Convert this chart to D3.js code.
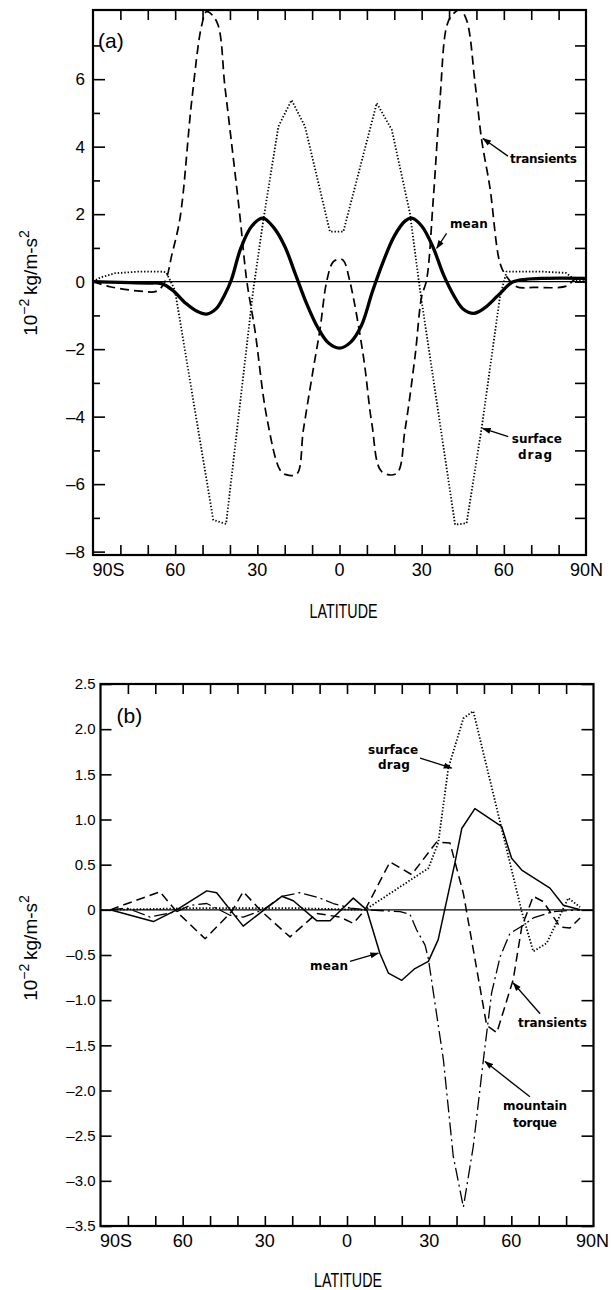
<!DOCTYPE html>
<html><head><meta charset="utf-8">
<script src="https://cdn.jsdelivr.net/npm/d3@7/dist/d3.min.js"></script>
<style>body{margin:0;background:#fff}</style>
</head><body><script>
// ---------------- DATA : panel (a) ----------------
const aMeanLat = [-90,-80,-70,-65,-61,-56,-52,-48.5,-45,-42,-39.5,-36,-32,-28,-24,-20,-16,-12,-8,-4,0,4,8,12,16,20,24,26.4,30,34,38,42,45,49,53,58,63,68,75,90];
const aMeanVal = [0,-0.02,-0.04,-0.06,-0.25,-0.65,-0.88,-0.96,-0.8,-0.4,0.05,1.0,1.65,1.88,1.6,1.05,0.2,-0.65,-1.35,-1.82,-1.97,-1.8,-1.3,-0.3,0.6,1.35,1.8,1.88,1.65,1.05,0.2,-0.45,-0.8,-0.94,-0.78,-0.4,-0.02,0.07,0.1,0.1];

const aTransLat = [-90,-83.8,-72.8,-66.7,-63.7,-61.2,-58.2,-53.9,-50.3,-48.5,-44.8,-41.8,-38.9,-36.3,-33.9,-30.9,-26.6,-21.7,-19.5,-15.6,-13.2,-9.6,-7.1,-4.7,-2.4,-0.5,1.3,3.8,8.7,11.8,15.4,20.9,23.9,27.6,30,31.8,34.2,36.7,39.1,41.1,44,46.4,49.5,51.9,54.9,58.6,61,64.7,70.8,83,86,90];
const aTransVal = [0,-0.15,-0.28,-0.28,0,0.8,1.9,5.4,7.6,8.0,7.7,5.75,3.75,1.9,0.05,-1.43,-4.0,-5.58,-5.72,-5.7,-4.4,-2.6,-1.4,0,0.58,0.66,0.64,0,-2.2,-4.2,-5.63,-5.68,-4.4,-2.2,-0.44,0.05,2.4,5.4,7.56,7.9,8.05,7.75,5.88,4.2,2.8,0.55,0.15,-0.15,-0.17,-0.13,0.07,0.05];

const aDragLat = [-90,-87.4,-81.9,-72.8,-65.5,-63.3,-60.1,-46.1,-41.4,-31.5,-27.8,-22.3,-17.5,-12.6,-7.1,-3.5,1.4,13.6,19.1,25.7,29.4,42.2,46.4,51.9,58.6,61,73.2,82.7,86,90];
const aDragVal = [0,0.12,0.25,0.3,0.3,0.28,-0.25,-7.06,-7.18,-0.25,1.83,4.6,5.38,4.6,2.72,1.48,1.48,5.29,4.5,2.03,-0.25,-7.2,-7.16,-4.34,-0.44,0.3,0.3,0.26,0.05,0];

// ---------------- DATA : panel (b) ----------------
const bMeanLat = [-86.5,-70.7,-62.2,-51.2,-47.6,-37.9,-31.1,-23.8,-19.6,-11.1,-6.2,2.3,7.2,12,15.1,20,24.8,29.7,33.3,39.4,41.9,46.7,56.5,60.1,63.8,74.1,79,85.1];
const bMeanVal = [0,-0.13,0,0.21,0.19,-0.18,-0.02,0.15,0.1,-0.12,-0.12,0.13,0,-0.48,-0.7,-0.78,-0.65,-0.57,-0.33,0.52,0.9,1.12,0.92,0.57,0.44,0.24,0.05,0];

const bTransLat = [-86.5,-68.3,-62.2,-51.8,-42.1,-37.9,-31.1,-20.8,-11.1,-2.6,2.3,6.6,15.7,23.6,32.7,37.6,42.5,51,54.7,60.7,63.8,68,71.7,77.8,81.4,85.1];
const bTransVal = [0,0.2,-0.02,-0.32,-0.02,0.2,-0.02,-0.3,-0.04,-0.08,-0.15,0,0.53,0.39,0.75,0.74,0.18,-1.28,-1.36,-0.77,-0.19,0.15,0.09,-0.19,-0.2,-0.09];

const bDragLat = [-86.5,-53.7,-20.8,6.6,29.7,33.3,37,42.5,46.1,63.8,68,72.9,80.8,85.1];
const bDragVal = [0,0.02,0.02,0,0.46,0.74,1.57,2.12,2.2,-0.02,-0.46,-0.37,0.13,0.03];

const bMtnLat = [-86.5,-80.4,-71.9,-62.2,-57.3,-51.2,-42.7,-37.9,-30.6,-23.8,-17.2,-9.9,-5,1.1,7.2,19.4,23,25.4,28.5,29.7,35.2,38.8,42.5,46.1,49.8,52.8,55.9,59.5,64.4,68,75.3,85.1];
const bMtnVal = [0,0.02,-0.08,-0.02,0.05,0.07,-0.06,-0.08,0,0.15,0.19,0.13,0.07,0.02,0,-0.02,-0.05,-0.22,-0.39,-0.54,-1.66,-2.73,-3.29,-2.62,-1.66,-0.92,-0.52,-0.26,-0.17,-0.09,-0.02,0];

// ---------------- TICKS / LABELS ----------------
const latTicks = [-80,-70,-60,-50,-40,-30,-20,-10,0,10,20,30,40,50,60,70,80];
const latLabelVals = [-90,-60,-30,0,30,60,90];
const latLabelText = ["90S","60","30","0","30","60","90N"];
const aYMajor = [-8,-6,-4,-2,0,2,4,6];
const aYMajorText = ["\u20138","\u20136","\u20134","\u20132","0","2","4","6"];
const aYMinor = [-7,-5,-3,-1,1,3,5,7];
const aYRight = [-7,-6,-5,-4,-3,-2,-1,0,1,2,3,4,5,6,7];
const bYTicks = [2.5,2,1.5,1,0.5,0,-0.5,-1,-1.5,-2,-2.5,-3,-3.5];
const bYText = ["2.5","2.0","1.5","1.0","0.5","0","\u20130.5","\u20131.0","\u20131.5","\u20132.0","\u20132.5","\u20133.0","\u20133.5"];

// ---------------- DRAW ----------------
const svg = d3.select("body").append("svg").attr("width",611).attr("height",1290);
const defs = svg.append("defs");
defs.append("marker").attr("id","arr").attr("viewBox","0 -4 10 8").attr("refX",9).attr("refY",0)
  .attr("markerWidth",9).attr("markerHeight",7).attr("markerUnits","userSpaceOnUse").attr("orient","auto")
  .append("path").attr("d","M0,-3.5L10,0L0,3.5Z").attr("fill","#000");

const FONT = "'Liberation Sans', Arial, sans-serif";
const NFONT = "'Liberation Sans Narrow','Liberation Sans',sans-serif";
const LFONT = "'DejaVu Sans', Verdana, sans-serif";

function drawPanel(p){
  const x = d3.scaleLinear().domain([-90,90]).range(p.xr);
  const y = d3.scaleLinear().domain(p.yd).range(p.yr);
  const top = p.yr[1], bot = p.yr[0], left = p.xr[0], right = p.xr[1];
  defs.append("clipPath").attr("id","clip"+p.id).append("rect")
    .attr("x",left).attr("y",top).attr("width",right-left).attr("height",bot-top);
  const g = svg.append("g");
  g.append("line").attr("x1",left).attr("x2",right).attr("y1",y(0)).attr("y2",y(0))
    .attr("stroke","#000").attr("stroke-width",1.1);
  p.series.forEach(s=>{
    const pts = s.lat.map((l,i)=>[l,s.val[i]]);
    const ln = d3.line().x(d=>x(d[0])).y(d=>y(d[1]))
      .curve(s.smooth?d3.curveCatmullRom.alpha(0.5):d3.curveLinear);
    g.append("path").attr("d",ln(pts)).attr("fill","none").attr("stroke","#000")
      .attr("stroke-width",s.w).attr("stroke-dasharray",s.dash||null)
      .attr("stroke-linejoin","round").attr("clip-path","url(#clip"+p.id+")");
  });
  const tk = (sel)=>sel.call(a=>a.select(".domain").remove()).selectAll("line").attr("stroke-width",1.6);
  const gl = svg.append("g").attr("transform",`translate(${left},0)`)
    .call(d3.axisLeft(y).tickValues(p.yMajor).tickSize(-p.majLen).tickSizeOuter(0).tickPadding(p.labPad)
      .tickFormat((d,i)=>p.yText[i]));
  tk(gl);
  gl.selectAll("text").attr("font-family",FONT).attr("font-size",p.yFont).attr("fill","#000");
  if(p.yMinor){
    const gm = svg.append("g").attr("transform",`translate(${left},0)`)
      .call(d3.axisLeft(y).tickValues(p.yMinor).tickSize(-7).tickSizeOuter(0).tickFormat(""));
    tk(gm);
  }
  tk(svg.append("g").attr("transform",`translate(${right},0)`)
    .call(d3.axisRight(y).tickValues(p.yRight).tickSize(-p.rLen).tickSizeOuter(0).tickFormat("")));
  tk(svg.append("g").attr("transform",`translate(0,${top})`)
    .call(d3.axisTop(x).tickValues(latTicks).tickSize(-10).tickSizeOuter(0).tickFormat("")));
  tk(svg.append("g").attr("transform",`translate(0,${bot})`)
    .call(d3.axisBottom(x).tickValues(latTicks).tickSize(-10).tickSizeOuter(0).tickFormat("")));
  const last = latLabelVals.length-1;
  svg.append("g").selectAll("text").data(latLabelVals).join("text")
    .attr("x",(d,i)=> i===0 ? x(d)-0.5 : (i===last ? x(d)+p.endDx : x(d)))
    .attr("y",bot+20.5)
    .attr("text-anchor",(d,i)=> i===0 ? "start" : (i===last ? "end" : "middle"))
    .attr("font-family",NFONT).attr("font-size",18).attr("fill","#000")
    .text((d,i)=>latLabelText[i]);
  svg.append("rect").attr("x",left).attr("y",top).attr("width",right-left).attr("height",bot-top)
    .attr("fill","none").attr("stroke","#000").attr("stroke-width",2.2);
  svg.append("text").attr("x",left+p.letterDx).attr("y",top+p.letterDy)
    .attr("font-family",FONT).attr("font-size",21).text(p.letter);
  svg.append("text").attr("x",x(0)+p.titleDx).attr("y",bot+p.titleDy).attr("text-anchor","middle")
    .attr("font-family",NFONT).attr("font-size",20)
    .attr("textLength",68).attr("lengthAdjust","spacingAndGlyphs").text("LATITUDE");
  const yt = svg.append("text").attr("transform",`translate(37,${p.yTitleY}) rotate(-90)`)
    .attr("text-anchor","middle").attr("font-family",FONT).attr("font-size",19);
  yt.append("tspan").text("10");
  yt.append("tspan").attr("baseline-shift","super").attr("font-size",14).text("\u22122");
  yt.append("tspan").text("\u2009kg/m-s");
  yt.append("tspan").attr("baseline-shift","super").attr("font-size",14).text("2");
  p.notes.forEach(n=>{
    n.text.forEach((t,i)=>{
      svg.append("text").attr("x",x(n.at[i][0])).attr("y",y(n.at[i][1]))
        .attr("font-family",LFONT).attr("font-weight","bold").attr("font-size",12)
        .attr("textLength",n.len[i]).attr("lengthAdjust","spacing").text(t);
    });
    svg.append("line").attr("x1",x(n.from[0])).attr("y1",y(n.from[1]))
      .attr("x2",x(n.to[0])).attr("y2",y(n.to[1])).attr("stroke","#000").attr("stroke-width",1.3)
      .attr("marker-end","url(#arr)");
  });
}

drawPanel({
  id:"a", xr:[93,586], yd:[-8.1,8.05], yr:[555,10],
  yMajor:aYMajor, yText:aYMajorText, yMinor:aYMinor, yRight:aYRight,
  majLen:12, rLen:11, labPad:8, yFont:17, endDx:17,
  letter:"(a)", letterDx:5, letterDy:38, titleDx:4, titleDy:63, yTitleY:283,
  series:[
    {lat:aDragLat, val:aDragVal, w:1.8, dash:"1.4,1.9"},
    {lat:aTransLat, val:aTransVal, w:1.7, dash:"9,5", smooth:true},
    {lat:aMeanLat, val:aMeanVal, w:3.3, smooth:true}
  ],
  notes:[
    {text:["transients"], at:[[62.25,3.52]], len:[67], from:[61.5,3.72], to:[52.4,4.24]},
    {text:["mean"], at:[[40.3,1.59]], len:[38], from:[39.1,1.43], to:[35.5,0.99]},
    {text:["surface","drag"], at:[[62.9,-4.78],[65.2,-5.26]], len:[50,34], from:[61.6,-4.59], to:[52.3,-4.35]}
  ]
});

drawPanel({
  id:"b", xr:[100.5,593.5], yd:[-3.5,2.5], yr:[1226,684],
  yMajor:bYTicks, yText:bYText, yMinor:null, yRight:bYTicks,
  majLen:11, rLen:12, labPad:5, yFont:15, endDx:15.5,
  letter:"(b)", letterDx:16, letterDy:39, titleDx:1, titleDy:61, yTitleY:948,
  series:[
    {lat:bDragLat, val:bDragVal, w:1.8, dash:"1.4,1.9"},
    {lat:bTransLat, val:bTransVal, w:1.5, dash:"9,5"},
    {lat:bMtnLat, val:bMtnVal, w:1.3, dash:"13,4,2,4"},
    {lat:bMeanLat, val:bMeanVal, w:1.5}
  ],
  notes:[
    {text:["surface","drag"], at:[[7.7,1.73],[11.3,1.56]], len:[50,32], from:[26.7,1.68], to:[38.2,1.57]},
    {text:["mean"], at:[[-13.5,-0.67]], len:[38], from:[1.1,-0.57], to:[11.4,-0.48]},
    {text:["transients"], at:[[62.4,-1.30]], len:[69], from:[70.5,-1.15], to:[60.7,-0.81]},
    {text:["mountain","torque"], at:[[57,-2.22],[60.6,-2.40]], len:[64,44], from:[66.8,-2.07], to:[50.4,-1.68]}
  ]
});
</script></body></html>
